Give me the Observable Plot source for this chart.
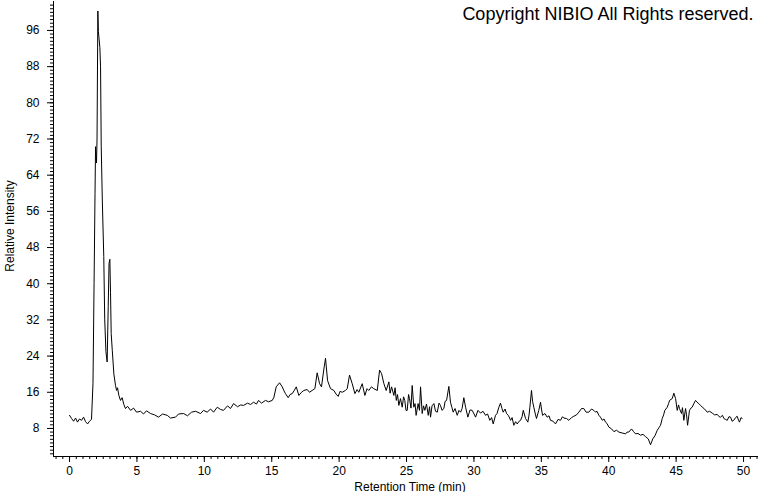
<!DOCTYPE html>
<html>
<head>
<meta charset="utf-8">
<script src="https://cdn.jsdelivr.net/npm/d3@7"></script>
<script src="https://cdn.jsdelivr.net/npm/@observablehq/plot@0.6"></script>
<style>
  html, body { margin: 0; padding: 0; background: #fff; }
  #chart svg { display: block; }
</style>
</head>
<body>
<div id="chart"></div>
<script>
// Retention time (min)
const times = [
  0.00,0.15,0.30,0.45,0.59,0.74,0.89,1.04,1.19,1.34,1.48,1.63,1.74,1.82,1.89,1.93,2.00,2.04,2.10,2.14,
  2.25,2.30,2.35,2.43,2.54,2.61,2.70,2.79,2.87,2.93,2.99,3.04,3.09,3.17,3.29,3.41,3.49,3.56,3.66,3.78,
  3.90,4.03,4.15,4.30,4.53,4.75,4.97,5.27,5.49,5.71,6.01,6.31,6.60,6.90,7.25,7.49,7.86,8.09,8.46,8.75,
  9.05,9.35,9.72,9.94,10.21,10.46,10.68,10.96,11.20,11.42,11.72,11.94,12.17,12.46,12.69,12.91,13.20,13.43,13.65,13.87,
  14.02,14.24,14.54,14.76,15.04,15.16,15.33,15.58,15.78,15.91,16.02,16.22,16.36,16.52,16.65,16.82,17.01,17.21,17.38,17.63,
  17.80,18.00,18.20,18.37,18.55,18.69,18.89,18.99,19.14,19.36,19.61,19.77,19.93,20.07,20.23,20.47,20.60,20.77,20.97,21.17,
  21.33,21.46,21.71,21.91,22.07,22.20,22.40,22.57,22.83,23.00,23.15,23.32,23.49,23.69,23.78,23.89,24.06,24.15,24.24,24.33,
  24.43,24.55,24.68,24.78,24.87,24.96,25.05,25.15,25.22,25.33,25.42,25.54,25.63,25.71,25.86,25.96,26.04,26.16,26.26,26.36,
  26.48,26.61,26.71,26.78,26.89,27.03,27.15,27.28,27.41,27.52,27.63,27.77,27.86,27.97,28.14,28.26,28.37,28.46,28.60,28.76,
  28.89,29.01,29.12,29.25,29.38,29.55,29.71,29.87,30.01,30.12,30.30,30.49,30.67,30.86,31.01,31.18,31.31,31.43,31.60,31.71,
  31.85,31.97,32.08,32.17,32.31,32.42,32.57,32.72,32.83,32.96,33.09,33.21,33.35,33.46,33.57,33.66,33.83,34.00,34.09,34.15,
  34.27,34.35,34.44,34.57,34.64,34.81,34.94,35.01,35.09,35.27,35.43,35.57,35.68,35.87,36.05,36.24,36.42,36.57,36.67,36.87,
  37.04,37.24,37.41,37.61,37.78,37.98,38.15,38.32,38.52,38.72,38.89,39.02,39.13,39.27,39.39,39.52,39.65,39.76,39.87,40.01,
  40.21,40.38,40.58,40.75,40.99,41.25,41.36,41.49,41.69,41.84,41.99,42.17,42.36,42.54,42.73,42.93,43.10,43.27,43.43,43.60,
  43.73,43.84,43.97,44.07,44.16,44.34,44.44,44.51,44.71,44.83,44.96,45.08,45.18,45.25,45.40,45.47,45.57,45.70,45.77,45.85,
  45.99,46.10,46.19,46.33,46.44,46.55,46.68,46.81,46.94,47.11,47.31,47.48,47.68,47.85,48.05,48.19,48.29,48.44,48.54,48.66,
  48.79,48.92,49.04,49.15,49.27,49.41,49.53,49.63,49.70,49.81,49.90
];
// Relative intensity
const intensity = [
  10.9,10.2,9.6,10.3,9.4,10.1,9.8,10.5,9.5,9.0,9.6,10.0,18.0,40.0,60.0,70.3,66.7,72.0,100.3,95.8,
  92.2,88.1,70.4,58.5,46.0,32.0,25.0,22.7,35.0,44.5,45.4,38.0,29.0,25.3,20.0,17.5,16.4,17.0,15.3,14.2,
  14.8,13.3,12.4,12.9,12.0,12.5,11.6,11.8,11.2,11.9,11.3,11.0,10.5,11.2,10.9,10.3,10.5,11.2,11.3,10.8,
  11.6,11.8,11.3,12.0,11.6,12.3,11.6,12.7,12.2,12.0,13.0,12.4,13.5,12.8,13.2,13.1,13.6,13.3,13.8,13.4,
  14.2,13.6,14.2,13.9,14.2,14.9,17.2,18.1,17.2,16.3,15.7,14.8,15.5,15.7,16.3,17.2,15.3,16.0,16.4,16.6,
  16.0,16.4,16.8,20.3,17.9,17.2,21.6,23.5,18.6,16.8,16.4,15.6,15.1,16.2,16.0,16.4,16.8,19.8,17.9,15.7,
  16.6,16.0,17.9,15.3,16.8,16.4,17.2,16.8,16.4,20.9,20.1,17.9,16.4,18.3,15.8,17.2,15.3,17.0,14.2,15.5,
  13.1,14.6,12.7,15.0,14.2,12.0,12.0,15.5,14.6,12.5,17.5,12.7,13.5,10.9,13.5,12.0,17.2,11.3,13.0,12.0,
  13.4,10.9,12.8,10.5,13.0,13.5,11.8,11.6,13.6,13.1,12.0,12.4,14.0,14.2,17.3,13.8,12.6,11.6,12.4,10.9,
  12.0,11.6,12.4,14.8,12.7,10.5,12.1,12.0,11.2,10.5,12.0,11.4,11.8,10.9,11.2,9.8,10.4,9.0,10.9,11.3,
  12.7,13.6,12.4,11.6,12.3,11.3,10.8,9.8,10.4,8.7,9.5,9.0,9.6,9.8,10.6,12.0,10.2,9.4,11.0,12.7,
  16.4,14.0,12.7,11.0,10.2,12.0,13.8,12.3,10.9,11.3,10.5,10.8,9.8,9.6,9.0,10.0,9.8,10.6,10.3,10.2,
  9.8,10.4,10.7,11.0,11.6,12.4,12.4,11.6,11.6,12.3,12.0,11.6,11.8,10.9,10.5,9.8,10.1,9.4,9.1,8.3,
  7.9,7.3,7.6,7.2,7.0,6.8,7.2,7.2,7.9,7.3,6.8,6.9,6.5,6.7,6.2,5.7,4.4,5.7,6.4,7.6,
  8.2,8.7,10.2,11.0,12.0,12.7,13.5,14.2,14.6,15.8,14.6,12.0,13.2,12.4,11.3,12.6,9.8,12.4,11.0,8.7,
  12.0,12.5,12.7,13.6,14.2,13.8,13.5,13.1,12.7,12.3,11.6,11.8,11.4,11.0,11.1,10.6,10.5,10.9,10.2,10.0,
  9.8,10.6,10.5,9.6,9.8,10.4,10.7,9.8,9.4,10.4,10.2
];
const yMajorTicks = [8, 16, 24, 32, 40, 48, 56, 64, 72, 80, 88, 96];
const xMajorTicks = [0, 5, 10, 15, 20, 25, 30, 35, 40, 45, 50];
const xLabel = "Retention Time (min)";
const yLabel = "Relative Intensity";
const copyright = "Copyright NIBIO All Rights reserved.";

const data = times.map((t, i) => ({t, v: intensity[i]}));
const xDomain = [-1.19, 51.11];
const yDomain = [1.8, 102.4];
const yMinorTicks = d3.range(0, 102.4, 0.8).filter(v => v >= yDomain[0]);
const xMinorTicks = d3.range(-1, 51.01, 0.5);
const font = "'Liberation Sans', Arial, sans-serif";

const chart = Plot.plot({
  width: 760,
  height: 492,
  marginLeft: 53,
  marginRight: 2,
  marginTop: 1,
  marginBottom: 36,
  style: {fontFamily: font, background: "#fff", color: "#000"},
  x: {domain: xDomain},
  y: {domain: yDomain},
  marks: [
    Plot.axisY({ticks: yMinorTicks, tickSize: 3, text: null, label: null, stroke: "#000"}),
    Plot.axisY({ticks: yMajorTicks, tickSize: 6, tickPadding: 8, fontSize: 12, label: null, stroke: "#000", tickFormat: d => d}),
    Plot.axisX({ticks: xMinorTicks, tickSize: 3, text: null, label: null, stroke: "#000"}),
    Plot.axisX({ticks: xMajorTicks, tickSize: 6, tickPadding: 4, fontSize: 12, label: null, stroke: "#000", tickFormat: d => d}),
    Plot.ruleX([xDomain[0]], {stroke: "#000"}),
    Plot.ruleY([yDomain[0]], {stroke: "#000"}),
    Plot.line(data, {x: "t", y: "v", stroke: "#000", strokeWidth: 1}),
    Plot.text([xLabel], {frameAnchor: "bottom", lineAnchor: "bottom", dx: 4, dy: 34, fontSize: 12, fill: "#000"}),
    Plot.text([yLabel], {frameAnchor: "left", textAnchor: "middle", dx: -43, dy: -3, rotate: -90, fontSize: 12, fill: "#000"}),
    Plot.text([copyright], {frameAnchor: "top-right", lineAnchor: "top", dx: -5, dy: 6, fontSize: 18, fill: "#000"})
  ]
});
document.getElementById("chart").appendChild(chart);
</script>
</body>
</html>
